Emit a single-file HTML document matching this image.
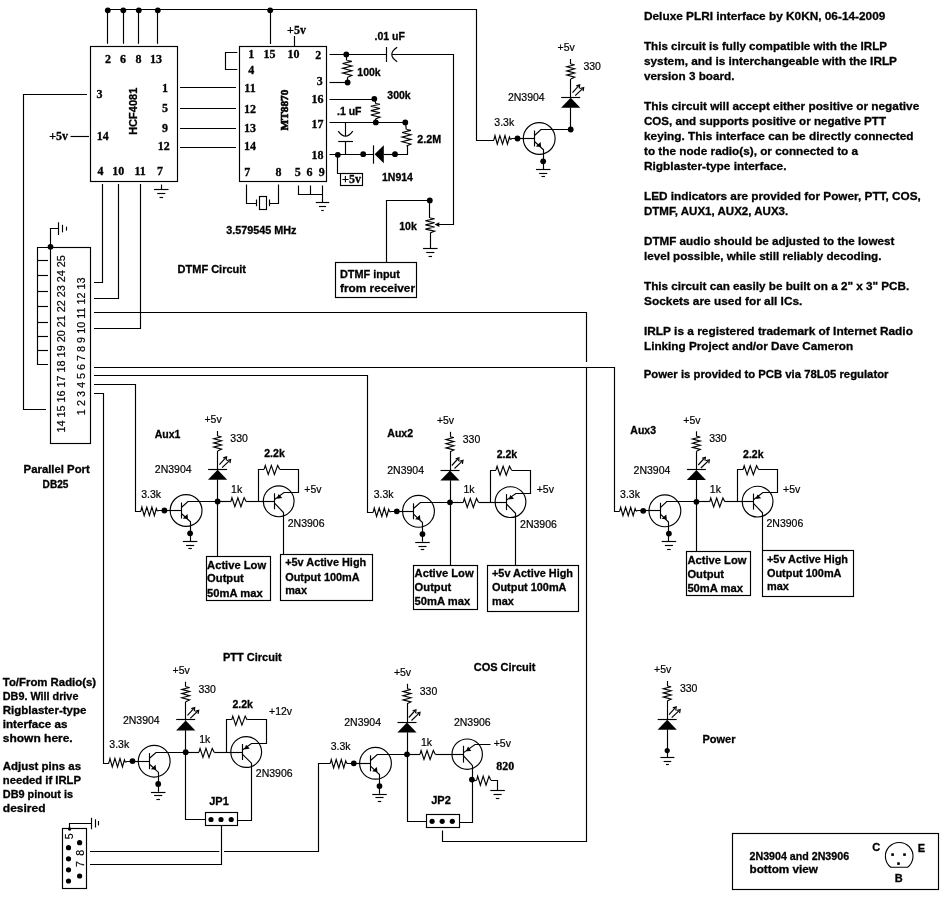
<!DOCTYPE html>
<html><head><meta charset="utf-8"><title>Deluxe PLRI interface</title>
<style>
html,body{margin:0;padding:0;background:#fff;}
body{width:950px;height:900px;overflow:hidden;}
svg{display:block;filter:grayscale(1);}
svg *{fill:none;stroke:#000;stroke-width:1.15;stroke-linejoin:miter;stroke-linecap:butt;}
svg .d{fill:#000;stroke:none;}
svg text{stroke:none;fill:#000;font-family:"Liberation Sans",sans-serif;font-size:10px;}
svg text.b{font-weight:bold;font-size:11px;stroke:#000;stroke-width:0.3px;}
svg text.r{font-weight:normal;font-size:10.5px;stroke:#000;stroke-width:0.2px;}
svg text.s{font-family:"Liberation Serif",serif;font-weight:bold;font-size:12px;stroke:#000;stroke-width:0.3px;}
svg text.h{stroke-width:0.6px;}
</style></head><body>
<svg width="950" height="900" viewBox="0 0 950 900">
<rect x="0" y="0" width="950" height="900" style="fill:#fff;stroke:none"/>
<g opacity="0.999">
<path d="M107.5 9.5 L476.5 9.5 L476.5 141"/>
<circle class="d" cx="107.8" cy="10.3" r="2.9"/>
<path d="M107.5 9.5 L107.5 43.8"/>
<circle class="d" cx="123.3" cy="10.3" r="2.9"/>
<path d="M123.5 9.5 L123.5 43.8"/>
<circle class="d" cx="138.8" cy="10.3" r="2.9"/>
<path d="M138.5 9.5 L138.5 43.8"/>
<circle class="d" cx="157.8" cy="10.3" r="2.9"/>
<path d="M157.5 9.5 L157.5 43.8"/>
<circle class="d" cx="270.2" cy="10.3" r="2.9"/>
<path d="M270.5 9.5 L270.5 44"/>
<rect x="90.5" y="46.5" width="87" height="135"/>
<text class="s" text-anchor="middle" x="108" y="63.3">2</text>
<text class="s" text-anchor="middle" x="123" y="63.3">6</text>
<text class="s" text-anchor="middle" x="138.5" y="63.3">8</text>
<text class="s" text-anchor="middle" x="156" y="63.3">13</text>
<text class="s" text-anchor="middle" x="165" y="91.5">1</text>
<text class="s" text-anchor="middle" x="165" y="111.8">5</text>
<text class="s" text-anchor="middle" x="165" y="132.1">9</text>
<text class="s" text-anchor="middle" x="163.7" y="150.3">12</text>
<text class="s" text-anchor="middle" x="99.5" y="98">3</text>
<text class="s" text-anchor="middle" x="102.8" y="139.5">14</text>
<text class="s" text-anchor="middle" x="100.6" y="175.1">4</text>
<text class="s" text-anchor="middle" x="118.2" y="175.1">10</text>
<text class="s" text-anchor="middle" x="140.2" y="175.1">11</text>
<text class="s" text-anchor="middle" x="160" y="175.1">7</text>
<text class="b" text-anchor="middle" transform="translate(136.9 111.3) rotate(-90)" style="font-size:11px">HCF4081</text>
<text class="s" text-anchor="middle" x="58.6" y="139.5">+5v</text>
<path d="M70.5 136.5 L89 136.5"/>
<path d="M87 94.5 L23.5 94.5 L23.5 409.5 L46 409.5"/>
<path d="M180 87.5 L236 87.5"/>
<path d="M180 108.5 L236 108.5"/>
<path d="M180 128.5 L236 128.5"/>
<path d="M180 147.5 L236 147.5"/>
<path d="M102.5 184 L102.5 282.5 L94 282.5"/>
<path d="M118.5 184 L118.5 298.5 L94 298.5"/>
<path d="M140.5 184 L140.5 328.5 L94 328.5"/>
<path d="M161.5 184.5 L161.5 189.8"/>
<path d="M154.05 189.5 L168.55 189.5"/>
<path d="M157.25 193.5 L165.35 193.5"/>
<path d="M159.55 197.5 L163.05 197.5"/>
<rect x="239.5" y="46.5" width="87" height="135"/>
<path d="M237.3 52.5 L225.5 52.5 L225.5 69.5 L237.3 69.5"/>
<text class="s" text-anchor="middle" x="251.3" y="58.1">1</text>
<text class="s" text-anchor="middle" x="269.5" y="58.1">15</text>
<text class="s" text-anchor="middle" x="293.5" y="58.1">10</text>
<text class="s" text-anchor="middle" x="318.2" y="58.8">2</text>
<text class="s" text-anchor="middle" x="251.3" y="74">4</text>
<text class="s" text-anchor="middle" x="250" y="91.5">11</text>
<text class="s" text-anchor="middle" x="250" y="112.8">12</text>
<text class="s" text-anchor="middle" x="250" y="132.1">13</text>
<text class="s" text-anchor="middle" x="250" y="149.8">14</text>
<text class="s" text-anchor="middle" x="319.8" y="85.4">3</text>
<text class="s" text-anchor="middle" x="317.5" y="102.8">16</text>
<text class="s" text-anchor="middle" x="317.5" y="128.1">17</text>
<text class="s" text-anchor="middle" x="317.5" y="158.7">18</text>
<text class="s" text-anchor="middle" x="247.2" y="176.1">7</text>
<text class="s" text-anchor="middle" x="278.6" y="176.1">8</text>
<text class="s" text-anchor="middle" x="297.8" y="176.1">5</text>
<text class="s" text-anchor="middle" x="309.4" y="176.1">6</text>
<text class="s" text-anchor="middle" x="321.8" y="176.1">9</text>
<text class="s h" text-anchor="middle" transform="translate(288.4 110) rotate(-90)" style="font-size:11.3px">MT8870</text>
<text class="s" text-anchor="middle" x="296.5" y="34.1">+5v</text>
<path d="M294.5 36 L294.5 46.5"/>
<path d="M329.5 54.5 L386.5 54.5"/>
<circle class="d" cx="346.3" cy="54.4" r="2.9"/>
<path d="M386.5 47 L386.5 62"/>
<path d="M397.2 47.3 Q386.4 54.4 397.2 61.7"/>
<path d="M392 54.5 L453.5 54.5 L453.5 224.5 L438.5 224.5"/>
<text class="b" text-anchor="middle" x="389.7" y="39.8" style="font-size:10.5px">.01 uF</text>
<path d="M346.5 54.4 L346.5 60.5"/>
<path d="M347.2 60.5 L351.8 61.35 L342.6 63.56 L351.8 65.94 L342.6 68.32 L351.8 70.7 L342.6 73.08 L351.8 75.46 L347.2 77.5"/>
<path d="M347.5 77.5 L347.5 82.5"/>
<circle class="d" cx="347.6" cy="82.5" r="2.9"/>
<path d="M329.5 82.5 L347.6 82.5"/>
<text class="b" text-anchor="middle" x="369" y="76" style="font-size:10.5px">100k</text>
<path d="M329.5 99.5 L374.5 99.5"/>
<circle class="d" cx="374.3" cy="98.8" r="2.9"/>
<path d="M375.5 99 L375.5 103.5"/>
<path d="M375.4 103.5 L380 104.28 L370.8 106.29 L380 108.46 L370.8 110.63 L380 112.8 L370.8 114.97 L380 117.14 L375.4 119"/>
<path d="M375.5 119 L375.5 122.4"/>
<text class="b" text-anchor="middle" x="399" y="99" style="font-size:10.5px">300k</text>
<path d="M329.5 122.5 L405.4 122.5"/>
<circle class="d" cx="375.8" cy="122.4" r="2.9"/>
<circle class="d" cx="405.3" cy="122.4" r="2.9"/>
<text class="b" text-anchor="middle" x="349.3" y="115.1" style="font-size:10.5px">.1 uF</text>
<path d="M345.5 122.4 L345.5 136"/>
<path d="M338.2 131.2 Q345.5 141.2 352.8 131.2"/>
<path d="M338.2 141.5 L353 141.5"/>
<path d="M345.5 141.5 L345.5 154.2"/>
<path d="M405.6 122.4 L406.2 129.5"/>
<path d="M406.5 129.5 L410.9 130.32 L402.1 132.47 L410.9 134.78 L402.1 137.09 L410.9 139.4 L402.1 141.71 L410.9 144.02 L406.5 146"/>
<path d="M407.5 146 L407.5 154.5 L395 154.5"/>
<text class="b" text-anchor="middle" x="429.2" y="143.1" style="font-size:10.7px">2.2M</text>
<path d="M329.5 154.5 L374 154.5"/>
<circle class="d" cx="337.8" cy="154.8" r="2.9"/>
<circle class="d" cx="363.2" cy="154.2" r="2.9"/>
<path d="M373.5 145.3 L373.5 163.7"/>
<polygon class="d" points="374.6,154.2 383.8,145.3 383.8,163.2"/>
<path d="M383.8 154.5 L395 154.5"/>
<circle class="d" cx="395" cy="154.2" r="2.9"/>
<text class="b" text-anchor="middle" x="397.5" y="181.3" style="font-size:10.5px">1N914</text>
<path d="M337.5 154.8 L337.5 173.5 L340.4 173.5"/>
<rect x="340.5" y="173.5" width="22" height="12"/>
<text class="s" text-anchor="middle" x="351.5" y="182.9">+5v</text>
<path d="M246.5 184.5 L246.5 203.5 L256 203.5"/>
<path d="M256.5 199.5 L256.5 206.2"/>
<rect x="259.5" y="196.5" width="7" height="13"/>
<path d="M269.5 199.5 L269.5 206.2"/>
<path d="M269.6 203.5 L278.5 203.5 L278.5 184.5"/>
<text class="b" text-anchor="middle" x="261.4" y="234.3" style="font-size:10.8px">3.579545 MHz</text>
<path d="M298.5 185.5 L298.5 194.5 L322.5 194.5"/>
<path d="M310.5 185.5 L310.5 194"/>
<path d="M322.5 185.5 L322.5 202.7"/>
<path d="M315.75 202.5 L329.25 202.5"/>
<path d="M318.95 206.5 L326.05 206.5"/>
<path d="M321.25 210.5 L323.75 210.5"/>
<path d="M386.5 262.5 L386.5 200.5 L430 200.5"/>
<circle class="d" cx="429.8" cy="200.4" r="2.9"/>
<path d="M429.5 200.4 L429.5 218"/>
<path d="M430 218 L434.6 218.75 L425.4 220.7 L434.6 222.8 L425.4 224.9 L434.6 227 L425.4 229.1 L434.6 231.2 L430 233"/>
<path d="M430.5 233 L430.5 248.4"/>
<path d="M423.05 248.5 L437.55 248.5"/>
<path d="M426.25 252.5 L434.35 252.5"/>
<path d="M428.55 256.5 L432.05 256.5"/>
<polygon class="d" points="434.6,224.6 439.3,222.2 439.3,227"/>
<text class="b" text-anchor="middle" x="408" y="230.3" style="font-size:10.5px">10k</text>
<rect x="335.5" y="262.5" width="81" height="35"/>
<text class="b" text-anchor="start" x="340" y="278" style="font-size:11px" textLength="59.9" lengthAdjust="spacingAndGlyphs">DTMF input</text>
<text class="b" text-anchor="start" x="340" y="292" style="font-size:11px" textLength="75" lengthAdjust="spacingAndGlyphs">from receiver</text>
<text class="b" text-anchor="middle" x="211.8" y="273" style="font-size:11px">DTMF Circuit</text>
<text class="r" text-anchor="middle" x="566.2" y="51.4">+5v</text>
<path d="M570.5 59 L570.5 64"/>
<path d="M570.7 64 L574.6 64.75 L566.8 66.7 L574.6 68.8 L566.8 70.9 L574.6 73 L566.8 75.1 L574.6 77.2 L570.7 79"/>
<path d="M570.5 79 L570.5 98"/>
<path d="M561.2 97.5 L580.2 97.5"/>
<polygon class="d" points="570.7,97.7 580.3,107.7 561.1,107.7"/>
<path d="M570.5 107.5 L570.5 129.5"/>
<path d="M572.5 92.7 L578.9 85.7"/>
<path d="M575.2 95.7 L582.9 88.3"/>
<path d="M576.3 85.9 L579.7 84.9 L579.3 88.5" stroke-width="0.9"/>
<path d="M580.1 88.5 L583.7 87.5 L583.1 91.1" stroke-width="0.9"/>
<text class="r" text-anchor="middle" x="592.2" y="70.1">330</text>
<circle cx="539.2" cy="138.5" r="15.9"/>
<circle class="d" cx="517.5" cy="138.5" r="2.9"/>
<path d="M517.5 138.5 L534.5 138.5"/>
<path d="M534.5 130.5 L534.5 146.5"/>
<path d="M534.5 135.5 L541 129.5 L570.7 129.5"/>
<path d="M534.5 141.5 L543.5 149.7 L543.5 169"/>
<polygon class="d" points="540.6,142.1 535.8,146.5 541.1,147.1"/>
<circle class="d" cx="543.2" cy="161.3" r="2.9"/>
<path d="M535.95 169.5 L550.45 169.5"/>
<path d="M539.15 173.5 L547.25 173.5"/>
<path d="M541.45 176.5 L544.95 176.5"/>
<path d="M494 139.5 L494.98 135.6 L497.28 144.1 L499.9 135.6 L502.53 144.1 L504.99 135.6 L507.45 144.1 L509.42 137 L510.4 139.5"/>
<path d="M510.4 139.5 L512 138.5 L517.5 138.5"/>
<path d="M476.5 140.5 L493.5 140.5 L494 139.5"/>
<text class="r" text-anchor="middle" x="526.3" y="101.4">2N3904</text>
<text class="r" text-anchor="middle" x="504.3" y="125.6">3.3k</text>
<circle class="d" cx="570.7" cy="129.5" r="2.9"/>
<rect x="50.5" y="247.5" width="40" height="196"/>
<path d="M50.5 247.5 L37.5 247.5 L37.5 364.5 L48 364.5"/>
<path d="M37.5 260.5 L48 260.5"/>
<path d="M37.5 275.5 L48 275.5"/>
<path d="M37.5 291.5 L48 291.5"/>
<path d="M37.5 306.5 L48 306.5"/>
<path d="M37.5 322.5 L48 322.5"/>
<path d="M37.5 336.5 L48 336.5"/>
<path d="M37.5 350.5 L48 350.5"/>
<circle class="d" cx="50.5" cy="246.8" r="2.9"/>
<path d="M50.5 246.8 L50.5 228.5 L58.1 228.5"/>
<path d="M58.5 222.3 L58.5 235"/>
<path d="M62.5 224.8 L62.5 232.4"/>
<path d="M66.5 226.7 L66.5 230.6"/>
<text class="r" text-anchor="middle" transform="translate(65.3 343.85) rotate(-90)" style="font-size:10.82px">14 15 16 17 18 19 20 21 22 23 24 25</text>
<text class="r" text-anchor="middle" transform="translate(85.3 346.3) rotate(-90)" style="font-size:10.84px">1 2 3 4 5 6 7 8 9 10 11 12 13</text>
<text class="b" text-anchor="start" x="23.6" y="472.6" style="font-size:10.6px" textLength="66.2" lengthAdjust="spacingAndGlyphs">Parallel Port</text>
<text class="b" text-anchor="start" x="42.6" y="488.3" style="font-size:10.6px" textLength="25.8" lengthAdjust="spacingAndGlyphs">DB25</text>
<path d="M94 312.5 L586.5 312.5 L586.5 362"/>
<path d="M586.5 367 L586.5 841.5 L442.5 841.5 L442.5 830.5"/>
<path d="M94 367.5 L614.5 367.5 L614.5 512"/>
<path d="M94 375.5 L367.5 375.5 L367.5 513"/>
<path d="M94 384.5 L135.5 384.5 L135.5 512"/>
<path d="M94 393.5 L103.5 393.5 L103.5 764"/>
<text class="r" text-anchor="middle" x="213.1" y="423.4">+5v</text>
<path d="M217.5 431 L217.5 436"/>
<path d="M217.6 436 L221.5 436.75 L213.7 438.7 L221.5 440.8 L213.7 442.9 L221.5 445 L213.7 447.1 L221.5 449.2 L217.6 451"/>
<path d="M217.5 451 L217.5 470"/>
<path d="M208.1 469.5 L227.1 469.5"/>
<polygon class="d" points="217.6,469.7 227.2,479.7 208,479.7"/>
<path d="M217.5 479.5 L217.5 501.5"/>
<path d="M219.4 464.7 L225.8 457.7"/>
<path d="M222.1 467.7 L229.8 460.3"/>
<path d="M223.2 457.9 L226.6 456.9 L226.2 460.5" stroke-width="0.9"/>
<path d="M227 460.5 L230.6 459.5 L230 463.1" stroke-width="0.9"/>
<text class="r" text-anchor="middle" x="239.1" y="442.1">330</text>
<circle cx="186.1" cy="510.5" r="15.9"/>
<circle class="d" cx="164.4" cy="510.5" r="2.9"/>
<path d="M164.4 510.5 L181.4 510.5"/>
<path d="M181.5 502.5 L181.5 518.5"/>
<path d="M181.4 507.5 L187.9 501.5 L217.6 501.5"/>
<path d="M181.4 513.5 L190.5 521.7 L190.5 541"/>
<polygon class="d" points="187.5,514.1 182.7,518.5 188,519.1"/>
<circle class="d" cx="190.1" cy="533.3" r="2.9"/>
<path d="M182.85 541.5 L197.35 541.5"/>
<path d="M186.05 545.5 L194.15 545.5"/>
<path d="M188.35 548.5 L191.85 548.5"/>
<path d="M140.9 511 L141.88 507.1 L144.18 515.6 L146.8 507.1 L149.43 515.6 L151.89 507.1 L154.35 515.6 L156.32 508.5 L157.3 511"/>
<path d="M157.3 511 L158.9 510.5 L164.4 510.5"/>
<path d="M135.5 511.5 L140.4 511.5 L140.9 511"/>
<text class="r" text-anchor="middle" x="173.2" y="473.4">2N3904</text>
<text class="r" text-anchor="middle" x="151.2" y="497.6">3.3k</text>
<circle class="d" cx="217.6" cy="501.5" r="2.9"/>
<path d="M230.9 501.5 L231.96 497.7 L234.85 506.7 L237.89 497.7 L240.93 506.7 L244.12 497.7 L246.1 501.5"/>
<path d="M217.6 501.5 L230.9 501.5"/>
<path d="M246.1 501.5 L274.5 501.5"/>
<circle cx="278.7" cy="501.3" r="15.4"/>
<path d="M274.5 493.3 L274.5 509.3"/>
<path d="M274.5 499.5 L284 492.5 L298.5 492.5 L298.5 469.5 L279.7 469.5"/>
<path d="M264.2 469.2 L265.29 465.4 L268.23 474.4 L271.33 465.4 L274.43 474.4 L277.69 465.4 L279.7 469.2"/>
<path d="M264.2 469.5 L258.5 469.5 L258.5 501.5"/>
<polygon class="d" points="277.1,498.7 282.3,497.9 278.5,494.1"/>
<text class="r" text-anchor="middle" x="236.6" y="492.6">1k</text>
<text class="b" text-anchor="middle" x="274.5" y="457.4" style="font-size:10.5px">2.2k</text>
<text class="r" text-anchor="middle" x="312.9" y="492.6">+5v</text>
<text class="r" text-anchor="middle" x="306.1" y="526.7">2N3906</text>
<text class="b" text-anchor="middle" x="167.5" y="437.9" style="font-size:10.5px">Aux1</text>
<path d="M217.5 501.5 L217.5 556.4"/>
<path d="M274.5 503.1 L283.5 512.5 L283.5 554.4"/>
<rect x="206.5" y="556.5" width="64" height="44"/>
<rect x="280.5" y="554.5" width="92" height="46"/>
<text class="b" text-anchor="start" x="207.1" y="568.7" style="font-size:11.2px">Active Low</text>
<text class="b" text-anchor="start" x="207.1" y="582.4" style="font-size:11.2px">Output</text>
<text class="b" text-anchor="start" x="207.1" y="596.6" style="font-size:11.2px">50mA max</text>
<text class="b" text-anchor="start" x="285.2" y="566.4" style="font-size:10.9px">+5v Active High</text>
<text class="b" text-anchor="start" x="285.2" y="580.6" style="font-size:10.9px">Output 100mA</text>
<text class="b" text-anchor="start" x="285.2" y="594.2" style="font-size:10.9px">max</text>
<text class="r" text-anchor="middle" x="445.5" y="424.2">+5v</text>
<path d="M450.5 431.8 L450.5 436.8"/>
<path d="M450 436.8 L453.9 437.55 L446.1 439.5 L453.9 441.6 L446.1 443.7 L453.9 445.8 L446.1 447.9 L453.9 450 L450 451.8"/>
<path d="M450.5 451.8 L450.5 470.8"/>
<path d="M440.5 470.5 L459.5 470.5"/>
<polygon class="d" points="450,470.5 459.6,480.5 440.4,480.5"/>
<path d="M450.5 480.3 L450.5 502.3"/>
<path d="M451.8 465.5 L458.2 458.5"/>
<path d="M454.5 468.5 L462.2 461.1"/>
<path d="M455.6 458.7 L459 457.7 L458.6 461.3" stroke-width="0.9"/>
<path d="M459.4 461.3 L463 460.3 L462.4 463.9" stroke-width="0.9"/>
<text class="r" text-anchor="middle" x="471.5" y="442.9">330</text>
<circle cx="418.5" cy="511.3" r="15.9"/>
<circle class="d" cx="396.8" cy="511.3" r="2.9"/>
<path d="M396.8 511.5 L413.8 511.5"/>
<path d="M413.5 503.3 L413.5 519.3"/>
<path d="M413.8 508.3 L420.3 502.5 L450 502.5"/>
<path d="M413.8 514.3 L422.5 522.5 L422.5 541.8"/>
<polygon class="d" points="419.9,514.9 415.1,519.3 420.4,519.9"/>
<circle class="d" cx="422.5" cy="534.1" r="2.9"/>
<path d="M415.25 542.5 L429.75 542.5"/>
<path d="M418.45 546.5 L426.55 546.5"/>
<path d="M420.75 549.5 L424.25 549.5"/>
<path d="M373.3 511.9 L374.28 508 L376.58 516.5 L379.2 508 L381.83 516.5 L384.29 508 L386.75 516.5 L388.72 509.4 L389.7 511.9"/>
<path d="M389.7 511.9 L391.3 511.5 L396.8 511.5"/>
<path d="M367.5 512.5 L372.8 512.5 L373.3 511.9"/>
<text class="r" text-anchor="middle" x="405.6" y="474.2">2N3904</text>
<text class="r" text-anchor="middle" x="383.6" y="498.4">3.3k</text>
<circle class="d" cx="450" cy="502.3" r="2.9"/>
<path d="M463.3 502.3 L464.36 498.5 L467.25 507.5 L470.29 498.5 L473.33 507.5 L476.52 498.5 L478.5 502.3"/>
<path d="M450 502.5 L463.3 502.5"/>
<path d="M478.5 502.5 L506.3 502.5"/>
<circle cx="510.5" cy="502.1" r="15.4"/>
<path d="M506.5 494.1 L506.5 510.1"/>
<path d="M506.3 500.3 L515.8 493.5 L530.5 493.5 L530.5 470.5 L511.5 470.5"/>
<path d="M496 470 L497.08 466.2 L500.03 475.2 L503.13 466.2 L506.23 475.2 L509.49 466.2 L511.5 470"/>
<path d="M496 470.5 L490.5 470.5 L490.5 502.3"/>
<polygon class="d" points="508.9,499.5 514.1,498.7 510.3,494.9"/>
<text class="r" text-anchor="middle" x="469" y="493.4">1k</text>
<text class="b" text-anchor="middle" x="506.9" y="458.2" style="font-size:10.5px">2.2k</text>
<text class="r" text-anchor="middle" x="545.3" y="493.4">+5v</text>
<text class="r" text-anchor="middle" x="538.5" y="527.5">2N3906</text>
<text class="b" text-anchor="middle" x="400.2" y="437.4" style="font-size:10.5px">Aux2</text>
<path d="M450.5 502.3 L450.5 565"/>
<path d="M506.3 503.9 L515.5 513.3 L515.5 565"/>
<rect x="413.5" y="565.5" width="64" height="44"/>
<rect x="487.5" y="565.5" width="91" height="46"/>
<text class="b" text-anchor="start" x="414.6" y="577.3" style="font-size:11.2px">Active Low</text>
<text class="b" text-anchor="start" x="414.6" y="591" style="font-size:11.2px">Output</text>
<text class="b" text-anchor="start" x="414.6" y="605.2" style="font-size:11.2px">50mA max</text>
<text class="b" text-anchor="start" x="492" y="577" style="font-size:10.9px">+5v Active High</text>
<text class="b" text-anchor="start" x="492" y="591.2" style="font-size:10.9px">Output 100mA</text>
<text class="b" text-anchor="start" x="492" y="604.8" style="font-size:10.9px">max</text>
<text class="r" text-anchor="middle" x="691.9" y="423.7">+5v</text>
<path d="M696.5 431.3 L696.5 436.3"/>
<path d="M696.4 436.3 L700.3 437.05 L692.5 439 L700.3 441.1 L692.5 443.2 L700.3 445.3 L692.5 447.4 L700.3 449.5 L696.4 451.3"/>
<path d="M696.5 451.3 L696.5 470.3"/>
<path d="M686.9 469.5 L705.9 469.5"/>
<polygon class="d" points="696.4,470 706,480 686.8,480"/>
<path d="M696.5 479.8 L696.5 501.8"/>
<path d="M698.2 465 L704.6 458"/>
<path d="M700.9 468 L708.6 460.6"/>
<path d="M702 458.2 L705.4 457.2 L705 460.8" stroke-width="0.9"/>
<path d="M705.8 460.8 L709.4 459.8 L708.8 463.4" stroke-width="0.9"/>
<text class="r" text-anchor="middle" x="717.9" y="442.4">330</text>
<circle cx="664.9" cy="510.8" r="15.9"/>
<circle class="d" cx="643.2" cy="510.8" r="2.9"/>
<path d="M643.2 510.5 L660.2 510.5"/>
<path d="M660.5 502.8 L660.5 518.8"/>
<path d="M660.2 507.8 L666.7 501.5 L696.4 501.5"/>
<path d="M660.2 513.8 L668.5 522 L668.5 541.3"/>
<polygon class="d" points="666.3,514.4 661.5,518.8 666.8,519.4"/>
<circle class="d" cx="668.9" cy="533.6" r="2.9"/>
<path d="M661.65 541.5 L676.15 541.5"/>
<path d="M664.85 545.5 L672.95 545.5"/>
<path d="M667.15 549.5 L670.65 549.5"/>
<path d="M619.7 511.15 L620.68 507.25 L622.98 515.75 L625.6 507.25 L628.23 515.75 L630.69 507.25 L633.15 515.75 L635.12 508.65 L636.1 511.15"/>
<path d="M636.1 511.15 L637.7 510.5 L643.2 510.5"/>
<path d="M614.6 511.5 L619.2 511.5 L619.7 511.15"/>
<text class="r" text-anchor="middle" x="652" y="473.7">2N3904</text>
<text class="r" text-anchor="middle" x="630" y="497.9">3.3k</text>
<circle class="d" cx="696.4" cy="501.8" r="2.9"/>
<path d="M709.7 501.8 L710.76 498 L713.65 507 L716.69 498 L719.73 507 L722.92 498 L724.9 501.8"/>
<path d="M696.4 501.5 L709.7 501.5"/>
<path d="M724.9 501.5 L753.4 501.5"/>
<circle cx="757.6" cy="501.6" r="15.4"/>
<path d="M753.5 493.6 L753.5 509.6"/>
<path d="M753.4 499.8 L762.9 492.5 L777.5 492.5 L777.5 469.5 L758.6 469.5"/>
<path d="M743.1 469.5 L744.19 465.7 L747.13 474.7 L750.23 465.7 L753.33 474.7 L756.59 465.7 L758.6 469.5"/>
<path d="M743.1 469.5 L737.5 469.5 L737.5 501.8"/>
<polygon class="d" points="756,499 761.2,498.2 757.4,494.4"/>
<text class="r" text-anchor="middle" x="715.4" y="492.9">1k</text>
<text class="b" text-anchor="middle" x="753.3" y="457.7" style="font-size:10.5px">2.2k</text>
<text class="r" text-anchor="middle" x="791.7" y="492.9">+5v</text>
<text class="r" text-anchor="middle" x="784.9" y="527">2N3906</text>
<text class="b" text-anchor="middle" x="643.2" y="433.7" style="font-size:10.5px">Aux3</text>
<path d="M696.5 501.8 L696.5 551.5"/>
<path d="M753.4 503.4 L762.5 512.8 L762.5 550.5"/>
<rect x="686.5" y="551.5" width="64" height="44"/>
<rect x="762.5" y="550.5" width="91" height="46"/>
<text class="b" text-anchor="start" x="687.4" y="563.8" style="font-size:11.2px">Active Low</text>
<text class="b" text-anchor="start" x="687.4" y="577.5" style="font-size:11.2px">Output</text>
<text class="b" text-anchor="start" x="687.4" y="591.7" style="font-size:11.2px">50mA max</text>
<text class="b" text-anchor="start" x="767" y="562.5" style="font-size:10.9px">+5v Active High</text>
<text class="b" text-anchor="start" x="767" y="576.7" style="font-size:10.9px">Output 100mA</text>
<text class="b" text-anchor="start" x="767" y="590.3" style="font-size:10.9px">max</text>
<text class="r" text-anchor="middle" x="181.2" y="674.1">+5v</text>
<path d="M185.5 681.7 L185.5 686.7"/>
<path d="M185.7 686.7 L189.6 687.45 L181.8 689.4 L189.6 691.5 L181.8 693.6 L189.6 695.7 L181.8 697.8 L189.6 699.9 L185.7 701.7"/>
<path d="M185.5 701.7 L185.5 720.7"/>
<path d="M176.2 719.5 L195.2 719.5"/>
<polygon class="d" points="185.7,720.4 195.3,730.4 176.1,730.4"/>
<path d="M185.5 730.2 L185.5 752.2"/>
<path d="M187.5 715.4 L193.9 708.4"/>
<path d="M190.2 718.4 L197.9 711"/>
<path d="M191.3 708.6 L194.7 707.6 L194.3 711.2" stroke-width="0.9"/>
<path d="M195.1 711.2 L198.7 710.2 L198.1 713.8" stroke-width="0.9"/>
<text class="r" text-anchor="middle" x="207.2" y="692.8">330</text>
<circle cx="154.2" cy="761.2" r="15.9"/>
<circle class="d" cx="132.5" cy="761.2" r="2.9"/>
<path d="M132.5 761.5 L149.5 761.5"/>
<path d="M149.5 753.2 L149.5 769.2"/>
<path d="M149.5 758.2 L156 752.5 L185.7 752.5"/>
<path d="M149.5 764.2 L158.5 772.4 L158.5 791.7"/>
<polygon class="d" points="155.6,764.8 150.8,769.2 156.1,769.8"/>
<circle class="d" cx="158.2" cy="784" r="2.9"/>
<path d="M150.95 792.5 L165.45 792.5"/>
<path d="M154.15 795.5 L162.25 795.5"/>
<path d="M156.45 799.5 L159.95 799.5"/>
<path d="M109 762.35 L109.98 758.45 L112.28 766.95 L114.9 758.45 L117.53 766.95 L119.99 758.45 L122.45 766.95 L124.42 759.85 L125.4 762.35"/>
<path d="M125.4 762.35 L127 761.5 L132.5 761.5"/>
<path d="M103.6 763.5 L108.5 763.5 L109 762.35"/>
<text class="r" text-anchor="middle" x="141.3" y="724.1">2N3904</text>
<text class="r" text-anchor="middle" x="119.3" y="748.3">3.3k</text>
<circle class="d" cx="185.7" cy="752.2" r="2.9"/>
<path d="M199 752.2 L200.06 748.4 L202.95 757.4 L205.99 748.4 L209.03 757.4 L212.22 748.4 L214.2 752.2"/>
<path d="M185.7 752.5 L199 752.5"/>
<path d="M214.2 752.5 L242 752.5"/>
<circle cx="246.2" cy="752" r="15.4"/>
<path d="M242.5 744 L242.5 760"/>
<path d="M242 750.2 L251.5 743.5 L266.5 743.5 L266.5 719.5 L247.2 719.5"/>
<path d="M231.7 719.9 L232.78 716.1 L235.73 725.1 L238.83 716.1 L241.93 725.1 L245.19 716.1 L247.2 719.9"/>
<path d="M231.7 719.5 L226.5 719.5 L226.5 752.2"/>
<polygon class="d" points="244.6,749.4 249.8,748.6 246,744.8"/>
<text class="r" text-anchor="middle" x="204.7" y="743.3">1k</text>
<text class="b" text-anchor="middle" x="242.6" y="708.1" style="font-size:10.5px">2.2k</text>
<text class="r" text-anchor="middle" x="274.2" y="777.4">2N3906</text>
<text class="r" text-anchor="middle" x="280.6" y="715.1">+12v</text>
<text class="b" text-anchor="middle" x="252.3" y="660.9" style="font-size:11px">PTT Circuit</text>
<path d="M185.5 752.2 L185.5 819.5 L205.5 819.5"/>
<path d="M242 753.8 L251.5 763.2 L251.5 820.5 L237.7 820.5"/>
<rect x="205.5" y="812.5" width="32" height="13"/>
<circle class="d" cx="211" cy="819.5" r="2.6"/>
<circle class="d" cx="221" cy="819.5" r="2.6"/>
<circle class="d" cx="231.2" cy="819.5" r="2.6"/>
<text class="b" text-anchor="middle" x="219" y="805.2" style="font-size:11px">JP1</text>
<path d="M221.5 826 L221.5 864.5 L90 864.5"/>
<path d="M90 851.5 L219.3 851.5"/>
<path d="M224 851.5 L318.5 851.5 L318.5 763"/>
<text class="r" text-anchor="middle" x="402.5" y="676.2">+5v</text>
<path d="M407.5 683.8 L407.5 688.8"/>
<path d="M407 688.8 L410.9 689.55 L403.1 691.5 L410.9 693.6 L403.1 695.7 L410.9 697.8 L403.1 699.9 L410.9 702 L407 703.8"/>
<path d="M407.5 703.8 L407.5 722.8"/>
<path d="M397.5 722.5 L416.5 722.5"/>
<polygon class="d" points="407,722.5 416.6,732.5 397.4,732.5"/>
<path d="M407.5 732.3 L407.5 754.3"/>
<path d="M408.8 717.5 L415.2 710.5"/>
<path d="M411.5 720.5 L419.2 713.1"/>
<path d="M412.6 710.7 L416 709.7 L415.6 713.3" stroke-width="0.9"/>
<path d="M416.4 713.3 L420 712.3 L419.4 715.9" stroke-width="0.9"/>
<text class="r" text-anchor="middle" x="428.5" y="694.9">330</text>
<circle cx="375.5" cy="763.3" r="15.9"/>
<circle class="d" cx="353.8" cy="763.3" r="2.9"/>
<path d="M353.8 763.5 L370.8 763.5"/>
<path d="M370.5 755.3 L370.5 771.3"/>
<path d="M370.8 760.3 L377.3 754.5 L407 754.5"/>
<path d="M370.8 766.3 L379.5 774.5 L379.5 793.8"/>
<polygon class="d" points="376.9,766.9 372.1,771.3 377.4,771.9"/>
<circle class="d" cx="379.5" cy="786.1" r="2.9"/>
<path d="M372.25 794.5 L386.75 794.5"/>
<path d="M375.45 797.5 L383.55 797.5"/>
<path d="M377.75 801.5 L381.25 801.5"/>
<path d="M330.3 763.4 L331.28 759.5 L333.58 768 L336.2 759.5 L338.83 768 L341.29 759.5 L343.75 768 L345.72 760.9 L346.7 763.4"/>
<path d="M346.7 763.4 L348.3 763.5 L353.8 763.5"/>
<path d="M318 763.5 L329.8 763.5 L330.3 763.4"/>
<text class="r" text-anchor="middle" x="362.6" y="726.2">2N3904</text>
<text class="r" text-anchor="middle" x="340.6" y="750.4">3.3k</text>
<circle class="d" cx="407" cy="754.3" r="2.9"/>
<text class="b" text-anchor="middle" x="504.6" y="670.7" style="font-size:11px">COS Circuit</text>
<path d="M420 754.3 L421.07 750.5 L423.98 759.5 L427.04 750.5 L430.1 759.5 L433.31 750.5 L435.3 754.3"/>
<path d="M407 754.5 L420 754.5"/>
<path d="M435.3 754.5 L463.5 754.5"/>
<text class="r" text-anchor="middle" x="426.5" y="745.6">1k</text>
<circle cx="467.2" cy="754.2" r="15.2"/>
<path d="M463.5 745.8 L463.5 762.6"/>
<path d="M463.6 752.6 L475 744.5 L490.5 744.5"/>
<polygon class="d" points="466,751.2 471.3,750.9 468,746.6"/>
<path d="M463.6 755.8 L472.5 765.6 L472.5 822.5 L459.2 822.5"/>
<circle class="d" cx="471.9" cy="779.6" r="2.9"/>
<path d="M476.7 780 L477.69 776.2 L480.37 785.2 L483.19 776.2 L486.01 785.2 L488.97 776.2 L490.8 780"/>
<path d="M471.9 780.5 L476.7 780.5"/>
<path d="M490.8 780.5 L497.5 780.5 L497.5 790.4"/>
<path d="M490.35 790.5 L504.85 790.5"/>
<path d="M493.55 794.5 L501.65 794.5"/>
<path d="M495.85 798.5 L499.35 798.5"/>
<text class="r" text-anchor="middle" x="472.3" y="725.7">2N3906</text>
<text class="r" text-anchor="middle" x="502.3" y="746.7">+5v</text>
<text class="s" text-anchor="middle" x="505.3" y="770">820</text>
<text class="b" text-anchor="middle" x="441" y="803.9" style="font-size:11px">JP2</text>
<path d="M407.5 754.3 L407.5 821.5 L426.2 821.5"/>
<rect x="426.5" y="814.5" width="33" height="13"/>
<circle class="d" cx="432.1" cy="821.3" r="2.6"/>
<circle class="d" cx="442.2" cy="821.3" r="2.6"/>
<circle class="d" cx="452.3" cy="821.3" r="2.6"/>
<text class="r" text-anchor="middle" x="662.7" y="673.4">+5v</text>
<path d="M667.5 681 L667.5 686"/>
<path d="M667.2 686 L671.1 686.75 L663.3 688.7 L671.1 690.8 L663.3 692.9 L671.1 695 L663.3 697.1 L671.1 699.2 L667.2 701"/>
<path d="M667.5 701 L667.5 720"/>
<path d="M657.7 719.5 L676.7 719.5"/>
<polygon class="d" points="667.2,719.7 676.8,729.7 657.6,729.7"/>
<path d="M667.5 729.5 L667.5 751.5"/>
<path d="M669 714.7 L675.4 707.7"/>
<path d="M671.7 717.7 L679.4 710.3"/>
<path d="M672.8 707.9 L676.2 706.9 L675.8 710.5" stroke-width="0.9"/>
<path d="M676.6 710.5 L680.2 709.5 L679.6 713.1" stroke-width="0.9"/>
<text class="r" text-anchor="middle" x="688.7" y="692.1">330</text>
<circle class="d" cx="667.2" cy="750.6" r="2.6"/>
<path d="M667.5 750.6 L667.5 757.3"/>
<path d="M660.4 757.5 L674.4 757.5"/>
<path d="M663.6 761.5 L671.2 761.5"/>
<path d="M665.9 764.5 L668.9 764.5"/>
<text class="b" text-anchor="middle" x="719" y="742.6" style="font-size:11px">Power</text>
<rect x="62.5" y="828.5" width="24" height="60"/>
<circle class="d" cx="68.5" cy="847.7" r="2.6"/>
<circle class="d" cx="68.5" cy="858.8" r="2.6"/>
<circle class="d" cx="68.5" cy="869.8" r="2.6"/>
<circle class="d" cx="68.5" cy="881" r="2.6"/>
<circle class="d" cx="79.6" cy="842.7" r="2.6"/>
<circle class="d" cx="79.6" cy="876" r="2.6"/>
<circle class="d" cx="69.6" cy="829" r="1.7"/>
<path d="M69.5 829 L69.5 823.5 L91.8 823.5"/>
<path d="M91.5 817.8 L91.5 829.3"/>
<path d="M95.5 819.3 L95.5 827.5"/>
<path d="M98.5 821 L98.5 825.4"/>
<text class="r" text-anchor="middle" transform="translate(73.4 836.3) rotate(-90)" style="font-size:10.5px">5</text>
<text class="r" text-anchor="middle" transform="translate(83.5 852.8) rotate(-90)" style="font-size:10.5px">8</text>
<text class="r" text-anchor="middle" transform="translate(83.5 864.2) rotate(-90)" style="font-size:10.5px">7</text>
<text class="b" text-anchor="start" x="2.8" y="686" style="font-size:10.7px" textLength="93.3" lengthAdjust="spacingAndGlyphs">To/From Radio(s)</text>
<text class="b" text-anchor="start" x="2.8" y="699.98" style="font-size:10.7px" textLength="75.6" lengthAdjust="spacingAndGlyphs">DB9. Will drive</text>
<text class="b" text-anchor="start" x="2.8" y="713.96" style="font-size:10.7px" textLength="83.6" lengthAdjust="spacingAndGlyphs">Rigblaster-type</text>
<text class="b" text-anchor="start" x="2.8" y="727.94" style="font-size:10.7px" textLength="64.6" lengthAdjust="spacingAndGlyphs">interface as</text>
<text class="b" text-anchor="start" x="2.8" y="741.92" style="font-size:10.7px" textLength="69.9" lengthAdjust="spacingAndGlyphs">shown here.</text>
<text class="b" text-anchor="start" x="2.8" y="769.88" style="font-size:10.7px" textLength="78.2" lengthAdjust="spacingAndGlyphs">Adjust pins as</text>
<text class="b" text-anchor="start" x="2.8" y="783.86" style="font-size:10.7px" textLength="78.2" lengthAdjust="spacingAndGlyphs">needed if IRLP</text>
<text class="b" text-anchor="start" x="2.8" y="797.84" style="font-size:10.7px" textLength="70.2" lengthAdjust="spacingAndGlyphs">DB9 pinout is</text>
<text class="b" text-anchor="start" x="2.8" y="811.82" style="font-size:10.7px" textLength="42.7" lengthAdjust="spacingAndGlyphs">desired</text>
<rect x="732.5" y="833.5" width="206" height="56"/>
<text class="b" text-anchor="start" x="749.5" y="859.5" style="font-size:11px" textLength="99.6" lengthAdjust="spacingAndGlyphs">2N3904 and 2N3906</text>
<text class="b" text-anchor="start" x="749.5" y="873.1" style="font-size:11px" textLength="68.5" lengthAdjust="spacingAndGlyphs">bottom view</text>
<path d="M890.8 867.2 A13.8 13.8 0 1 1 907.6 867.2 Z"/>
<rect class="d" x="891.3" y="853.3" width="2.6" height="2.6"/>
<rect class="d" x="903.2" y="853.3" width="2.6" height="2.6"/>
<rect class="d" x="897.2" y="862.3" width="2.6" height="2.6"/>
<text class="b" text-anchor="middle" x="876.2" y="851" style="font-size:11px">C</text>
<text class="b" text-anchor="middle" x="921.5" y="851.7" style="font-size:11px">E</text>
<text class="b" text-anchor="middle" x="898.7" y="882" style="font-size:11px">B</text>
<text class="b" text-anchor="start" x="644" y="19.85" style="font-size:11.75px" textLength="241.3" lengthAdjust="spacingAndGlyphs">Deluxe PLRI interface by K0KN, 06-14-2009</text>
<text class="b" text-anchor="start" x="644" y="49.83" style="font-size:11.75px" textLength="243" lengthAdjust="spacingAndGlyphs">This circuit is fully compatible with the IRLP</text>
<text class="b" text-anchor="start" x="644" y="64.82" style="font-size:11.75px" textLength="253" lengthAdjust="spacingAndGlyphs">system, and is interchangeable with the IRLP</text>
<text class="b" text-anchor="start" x="644" y="79.81" style="font-size:11.75px" textLength="90.5" lengthAdjust="spacingAndGlyphs">version 3 board.</text>
<text class="b" text-anchor="start" x="644" y="109.79" style="font-size:11.75px" textLength="275.2" lengthAdjust="spacingAndGlyphs">This circuit will accept either positive or negative</text>
<text class="b" text-anchor="start" x="644" y="124.78" style="font-size:11.75px" textLength="242" lengthAdjust="spacingAndGlyphs">COS, and supports positive or negative PTT</text>
<text class="b" text-anchor="start" x="644" y="139.77" style="font-size:11.75px" textLength="269.5" lengthAdjust="spacingAndGlyphs">keying. This interface can be directly connected</text>
<text class="b" text-anchor="start" x="644" y="154.76" style="font-size:11.75px" textLength="214.1" lengthAdjust="spacingAndGlyphs">to the node radio(s), or connected to a</text>
<text class="b" text-anchor="start" x="644" y="169.75" style="font-size:11.75px" textLength="142.5" lengthAdjust="spacingAndGlyphs">Rigblaster-type interface.</text>
<text class="b" text-anchor="start" x="644" y="199.73" style="font-size:11.75px" textLength="276.8" lengthAdjust="spacingAndGlyphs">LED indicators are provided for Power, PTT, COS,</text>
<text class="b" text-anchor="start" x="644" y="214.72" style="font-size:11.75px" textLength="144.2" lengthAdjust="spacingAndGlyphs">DTMF, AUX1, AUX2, AUX3.</text>
<text class="b" text-anchor="start" x="644" y="244.7" style="font-size:11.75px" textLength="250.3" lengthAdjust="spacingAndGlyphs">DTMF audio should be adjusted to the lowest</text>
<text class="b" text-anchor="start" x="644" y="259.69" style="font-size:11.75px" textLength="237.4" lengthAdjust="spacingAndGlyphs">level possible, while still reliably decoding.</text>
<text class="b" text-anchor="start" x="644" y="289.67" style="font-size:11.75px" textLength="265.2" lengthAdjust="spacingAndGlyphs">This circuit can easily be built on a 2&quot; x 3&quot; PCB.</text>
<text class="b" text-anchor="start" x="644" y="304.66" style="font-size:11.75px" textLength="158.4" lengthAdjust="spacingAndGlyphs">Sockets are used for all ICs.</text>
<text class="b" text-anchor="start" x="644" y="334.64" style="font-size:11.75px" textLength="268.9" lengthAdjust="spacingAndGlyphs">IRLP is a registered trademark of Internet Radio</text>
<text class="b" text-anchor="start" x="644" y="349.63" style="font-size:11.75px" textLength="209.2" lengthAdjust="spacingAndGlyphs">Linking Project and/or Dave Cameron</text>
<text class="b" text-anchor="start" x="643.8" y="377.8" style="font-size:11.3px" textLength="244.7" lengthAdjust="spacingAndGlyphs">Power is provided to PCB via 78L05 regulator</text>
</g>
</svg>
</body></html>
